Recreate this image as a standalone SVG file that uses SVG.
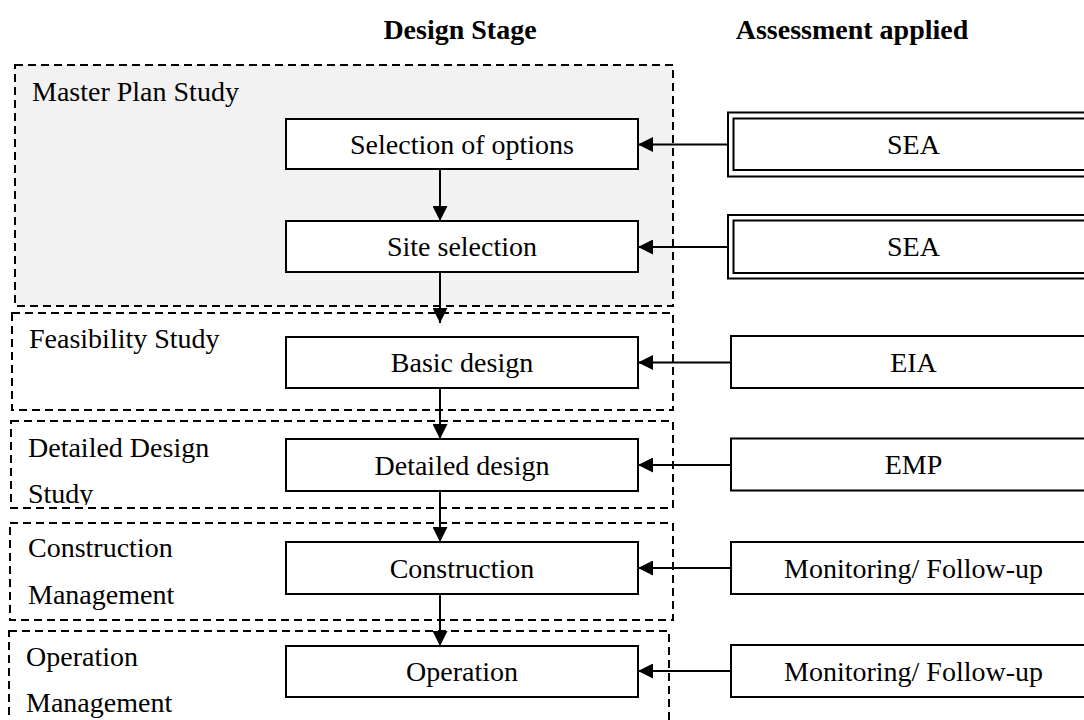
<svg xmlns="http://www.w3.org/2000/svg" width="1084" height="720" viewBox="0 0 1084 720">
  <style>
    text { font-family: "Liberation Serif", "Times New Roman", serif; font-size: 28px; fill: #000; }
    .hdr { font-weight: bold; text-anchor: middle; }
    .mid { text-anchor: middle; }
    .stage { fill: none; stroke: #000; stroke-width: 2; stroke-dasharray: 8 5; }
    .box { fill: #fff; stroke: #000; stroke-width: 2; }
    .conn { fill: none; stroke: #000; stroke-width: 2; marker-end: url(#ah); }
  </style>
  <defs>
    <marker id="ah" viewBox="0 0 15 15" refX="15" refY="7.5" markerWidth="15" markerHeight="15" orient="auto" markerUnits="userSpaceOnUse">
      <path d="M0,0 L15,7.5 L0,15 z" fill="#000"/>
    </marker>
    <clipPath id="clipStudy">
      <rect x="0" y="420" width="300" height="85"/>
    </clipPath>
  </defs>

  <g id="headers">
    <text class="hdr" x="460" y="39">Design Stage</text>
    <text class="hdr" x="852" y="39">Assessment applied</text>
  </g>

  <g id="stage-master-plan">
    <rect x="15" y="65" width="658" height="241" class="stage" style="fill:#f2f2f2"/>
    <text x="32" y="101">Master Plan Study</text>
  </g>
  <g id="stage-feasibility">
    <rect x="12" y="313" width="661" height="97" class="stage"/>
    <text x="29" y="348">Feasibility Study</text>
  </g>
  <g id="stage-detailed">
    <rect x="11" y="421" width="662" height="87" class="stage"/>
    <text x="28" y="457">Detailed Design</text>
    <text x="28" y="503" clip-path="url(#clipStudy)">Study</text>
  </g>
  <g id="stage-construction">
    <rect x="10" y="523" width="663" height="97" class="stage"/>
    <text x="28" y="557">Construction</text>
    <text x="28" y="604">Management</text>
  </g>
  <g id="stage-operation">
    <rect x="9" y="631" width="660" height="110" class="stage"/>
    <text x="26" y="666">Operation</text>
    <text x="26" y="712">Management</text>
  </g>

  <g id="connectors">
    <line class="conn" x1="440" y1="169" x2="440" y2="221"/>
    <line class="conn" x1="440" y1="272" x2="440" y2="323"/>
    <line class="conn" x1="440" y1="388" x2="440" y2="439"/>
    <line class="conn" x1="440" y1="491" x2="440" y2="542"/>
    <line class="conn" x1="440" y1="594" x2="440" y2="646"/>
    <line class="conn" x1="728" y1="144.5" x2="638" y2="144.5"/>
    <line class="conn" x1="728" y1="247" x2="638" y2="247"/>
    <line class="conn" x1="731" y1="362.5" x2="638" y2="362.5"/>
    <line class="conn" x1="731" y1="465" x2="638" y2="465"/>
    <line class="conn" x1="731" y1="568" x2="638" y2="568"/>
    <line class="conn" x1="731" y1="671" x2="638" y2="671"/>
  </g>

  <g id="node-selection-of-options">
    <rect class="box" x="286" y="119" width="352" height="50"/>
    <text class="mid" x="462" y="153.5">Selection of options</text>
  </g>
  <g id="node-site-selection">
    <rect class="box" x="286" y="221" width="352" height="51"/>
    <text class="mid" x="462" y="256">Site selection</text>
  </g>
  <g id="node-basic-design">
    <rect class="box" x="286" y="337" width="352" height="51"/>
    <text class="mid" x="462" y="372">Basic design</text>
  </g>
  <g id="node-detailed-design">
    <rect class="box" x="286" y="439" width="352" height="52"/>
    <text class="mid" x="462" y="474.5">Detailed design</text>
  </g>
  <g id="node-construction">
    <rect class="box" x="286" y="542" width="352" height="52"/>
    <text class="mid" x="462" y="577.5">Construction</text>
  </g>
  <g id="node-operation">
    <rect class="box" x="286" y="646" width="352" height="51"/>
    <text class="mid" x="462" y="681">Operation</text>
  </g>

  <g id="node-sea-1">
    <rect class="box" x="728" y="112.5" width="380" height="64"/>
    <rect class="box" x="733.5" y="118.5" width="370" height="51.5"/>
    <text class="mid" x="913.5" y="153.5">SEA</text>
  </g>
  <g id="node-sea-2">
    <rect class="box" x="728" y="215" width="380" height="63.5"/>
    <rect class="box" x="733.5" y="220.5" width="370" height="52.5"/>
    <text class="mid" x="913.5" y="256">SEA</text>
  </g>
  <g id="node-eia">
    <rect class="box" x="731" y="336" width="370" height="52"/>
    <text class="mid" x="913.5" y="371.5">EIA</text>
  </g>
  <g id="node-emp">
    <rect class="box" x="731" y="438.5" width="370" height="52"/>
    <text class="mid" x="913.5" y="474">EMP</text>
  </g>
  <g id="node-monitoring-1">
    <rect class="box" x="731" y="542" width="370" height="52"/>
    <text class="mid" x="913.5" y="577.5">Monitoring/ Follow-up</text>
  </g>
  <g id="node-monitoring-2">
    <rect class="box" x="731" y="645" width="370" height="52"/>
    <text class="mid" x="913.5" y="680.5">Monitoring/ Follow-up</text>
  </g>
</svg>
